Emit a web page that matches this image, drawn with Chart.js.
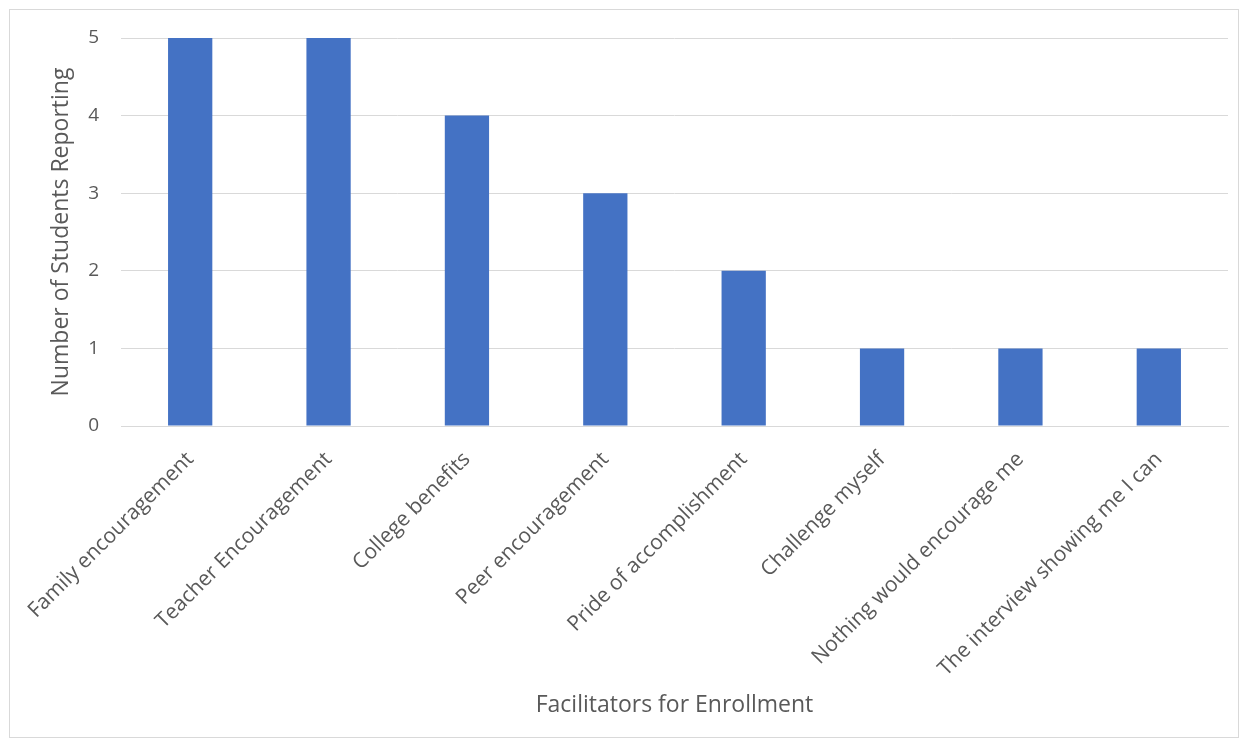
<!DOCTYPE html>
<html>
<head>
<meta charset="utf-8">
<script src="https://cdn.jsdelivr.net/npm/chart.js@4.4.0/dist/chart.umd.min.js"></script>
<style>
    html, body { margin: 0; padding: 0; background: #fff; }
    #wrap { position: relative; width: 1247px; height: 746px; }
    #frame { position: absolute; left: 9px; top: 9px; width: 1228px; height: 727px; border: 1px solid #d9d9d9; }
    canvas { position: absolute; left: 0; top: 0; }
</style>
</head>
<body>
<div id="wrap">
    <div id="frame"></div>
    <canvas id="facilitatorsChart" width="1247" height="746"></canvas>
</div>
<script>
// Facilitateurs cités par les élèves
const categories = [
    'Family encouragement',
    'Teacher Encouragement',
    'College benefits',
    'Peer encouragement',
    'Pride of accomplishment',
    'Challenge myself',
    'Nothing would encourage me',
    'The interview showing me I can'
];
const studentCounts = [5, 5, 4, 3, 2, 1, 1, 1];
const yTicks = [0, 1, 2, 3, 4, 5];

const textColor = '#595959';
const gridColor = '#d9d9d9';
const fontFamily = '"Open Sans", sans-serif';

const ctx = document.getElementById('facilitatorsChart').getContext('2d');
const facilitatorsChart = new Chart(ctx, {
    type: 'bar',
    data: {
        labels: categories,
        datasets: [{
            label: 'Number of Students Reporting',
            data: studentCounts,
            backgroundColor: '#4472c4',
            borderWidth: 0,
            categoryPercentage: 1,
            barPercentage: 0.32
        }]
    },
    options: {
        responsive: false,
        animation: false,
        layout: { padding: { left: 40, right: 19, top: 38, bottom: 23 } },
        plugins: {
            legend: { display: false },
            tooltip: { enabled: false }
        },
        scales: {
            x: {
                afterFit: scale => { scale.height = 746 - 23 - 426; },
                grid: { display: false, drawTicks: false },
                border: { display: true, color: gridColor, width: 1 },
                ticks: {
                    autoSkip: false,
                    minRotation: 45,
                    maxRotation: 45,
                    padding: 21,
                    color: textColor,
                    font: { family: fontFamily, size: 21 }
                },
                title: {
                    display: true,
                    text: 'Facilitators for Enrollment',
                    color: textColor,
                    font: { family: fontFamily, size: 23 },
                    padding: { top: 4, bottom: 4 }
                }
            },
            y: {
                min: 0,
                max: 5,
                afterFit: scale => { scale.width = 121 - 40; },
                afterBuildTicks: scale => {
                    scale.ticks = yTicks.map(v => ({ value: v }));
                },
                grid: { color: gridColor, lineWidth: 1, drawTicks: false },
                border: { display: false },
                ticks: {
                    padding: 22,
                    color: textColor,
                    font: { family: fontFamily, size: 19 }
                },
                title: {
                    display: true,
                    text: 'Number of Students Reporting',
                    color: textColor,
                    font: { family: fontFamily, size: 23 },
                    padding: { top: 8, bottom: 4 }
                }
            }
        }
    }
});
</script>
</body>
</html>
